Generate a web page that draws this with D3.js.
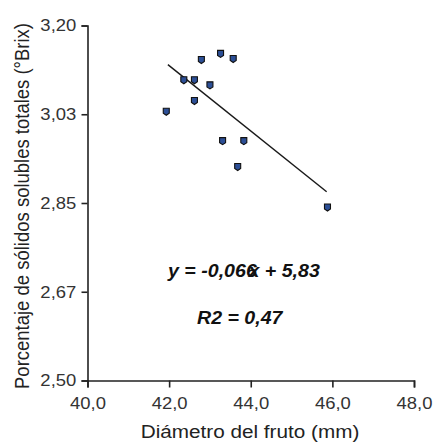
<!DOCTYPE html>
<html>
<head>
<meta charset="utf-8">
<script src="https://cdn.jsdelivr.net/npm/d3@7"></script>
<style>
  html, body { margin: 0; padding: 0; background: #fff; }
  svg { display: block; }
  text { font-family: Arial, "Liberation Sans", sans-serif; }
</style>
</head>
<body>
<svg id="chart" width="436" height="444"></svg>
<script>
// Fruit diameter (mm) vs. total soluble solids (°Brix)
const diametro = [41.93, 42.79, 43.26, 43.57, 42.36, 42.62, 43.00, 42.62, 43.31, 43.83, 43.68, 45.88];
const solidos  = [3.030, 3.132, 3.144, 3.134, 3.092, 3.092, 3.082, 3.051, 2.972, 2.972, 2.921, 2.841];

// Linear trend: y = slope * x + intercept, drawn across the observed range
const trendSlope = -0.0645;
const trendIntercept = 5.83;
const trendRange = [41.97, 45.86];

const xTicks = [40, 42, 44, 46, 48];
const xTickLabels = ["40,0", "42,0", "44,0", "46,0", "48,0"];
const yTicks = [2.5, 2.675, 2.85, 3.025, 3.2];
const yTickLabels = ["2,50", "2,67", "2,85", "3,03", "3,20"];

const svg = d3.select("#chart");
const stretch = 1.12; // glyphs are drawn slightly wide

const x = d3.scaleLinear().domain([40, 48]).range([87.5, 414]);
const y = d3.scaleLinear().domain([2.5, 3.2]).range([380.5, 25.5]);

// X axis
const xAxis = svg.append("g")
  .attr("transform", `translate(0,${y(2.5)})`)
  .call(d3.axisBottom(x).tickValues(xTicks)
    .tickFormat((d, i) => xTickLabels[i]).tickSizeOuter(0).tickSize(7).tickPadding(10));
xAxis.select(".domain").attr("stroke", "#222").attr("stroke-width", 1.6);
xAxis.selectAll(".tick line").attr("stroke", "#222").attr("stroke-width", 1.6);
xAxis.selectAll(".tick text")
  .attr("fill", "#333").attr("font-size", 16.5)
  .attr("transform", `scale(${stretch},1)`);

// Y axis
const yAxis = svg.append("g")
  .attr("transform", `translate(${x(40)},0)`)
  .call(d3.axisLeft(y).tickValues(yTicks)
    .tickFormat((d, i) => yTickLabels[i]).tickSizeOuter(0).tickSize(6).tickPadding(4));
yAxis.select(".domain").attr("stroke", "#222").attr("stroke-width", 1.6);
yAxis.selectAll(".tick line").attr("stroke", "#222").attr("stroke-width", 1.6);
yAxis.selectAll(".tick text")
  .attr("fill", "#333").attr("font-size", 16.5)
  .attr("transform", `scale(${stretch},1)`);

// Axis titles
svg.append("text")
  .attr("transform", `translate(250,438) scale(${stretch},1)`)
  .attr("text-anchor", "middle")
  .attr("font-size", 18.5)
  .attr("fill", "#222")
  .text("Diámetro del fruto (mm)");

svg.append("text")
  .attr("transform", `translate(29,206) scale(${stretch},1) rotate(-90)`)
  .attr("text-anchor", "middle")
  .attr("font-size", 18.5)
  .attr("fill", "#222")
  .text("Porcentaje de sólidos solubles totales (°Brix)");

// Trend line
const trend = trendRange.map(v => [v, trendSlope * v + trendIntercept]);
svg.append("path")
  .attr("d", d3.line().x(d => x(d[0])).y(d => y(d[1]))(trend))
  .attr("fill", "none")
  .attr("stroke", "#1a1a1a")
  .attr("stroke-width", 1.4);

// Data markers: small squares with a pointed base
const marker = "M-3,-3.5 L3,-3.5 L3,1.5 L0,3.5 L-3,1.5 Z";
svg.append("g").selectAll("path")
  .data(diametro.map((d, i) => [d, solidos[i]]))
  .join("path")
  .attr("d", marker)
  .attr("transform", d => `translate(${x(d[0])},${y(d[1])})`)
  .attr("fill", "#2c4f96")
  .attr("stroke", "#111")
  .attr("stroke-width", 1.1);

// Equation (the trailing coefficient digit sits under the "x") and R²
const eqText = "y = -0,066x + 5,83";
const eqShift = Array.from(eqText, (c, i) => (i === 10 ? -7.5 : 0)).join(" ");
svg.append("text")
  .attr("transform", `translate(168,277) scale(${stretch},1)`)
  .attr("font-size", 17.5)
  .attr("font-weight", "bold")
  .attr("font-style", "italic")
  .attr("fill", "#111")
  .attr("dx", eqShift)
  .text(eqText);

svg.append("text")
  .attr("transform", `translate(197,324) scale(${stretch},1)`)
  .attr("font-size", 17.5)
  .attr("font-weight", "bold")
  .attr("font-style", "italic")
  .attr("fill", "#111")
  .text("R2 = 0,47");
</script>
</body>
</html>
